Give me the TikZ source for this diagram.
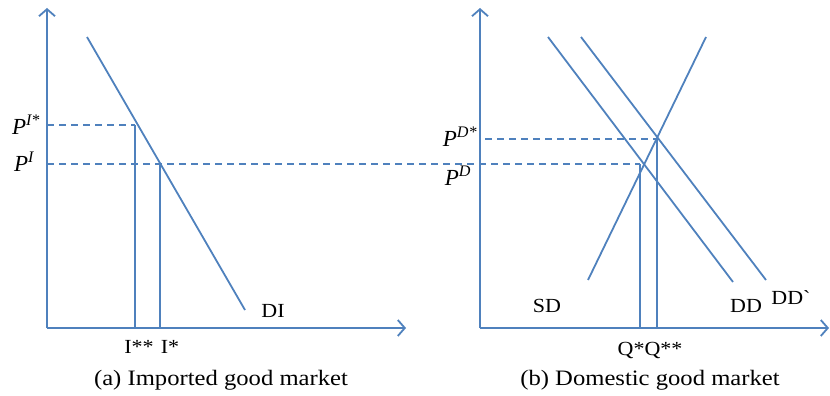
\documentclass[tikz,border=0pt]{standalone}
\usepackage{fontspec}
\setmainfont{Liberation Serif}
\usetikzlibrary{arrows.meta}
\definecolor{lb}{RGB}{79,129,189}
\tikzset{
  ax/.style={draw=lb, line width=1.8pt, -{Straight Barb[length=7pt,width=16pt,line width=1.8pt]}},
  ln/.style={draw=lb, line width=1.8pt},
  dl/.style={draw=lb, line width=1.4pt, dash pattern=on 7pt off 5pt},
  lbl/.style={font=\fontsize{20}{24}\selectfont, inner sep=0pt, xscale=1.1},
  plbl/.style={font=\fontsize{23}{27}\selectfont\itshape, inner sep=0pt},
  captext/.style={font=\fontsize{22}{26}\selectfont, inner sep=0pt, xscale=1.12}
}
\begin{document}
\begin{tikzpicture}[x=1pt,y=-1pt]
\useasboundingbox (0,0) rectangle (830,396);
% left panel
\coordinate (oA) at (47,328);
\coordinate (yA) at (47,8);
\coordinate (xA) at (406,328);
\draw[ax] (oA) -- (yA);
\draw[ax] (oA) -- (xA);
\coordinate (di1) at (87,37);
\coordinate (di2) at (245,310);
\draw[ln] (di1) -- (di2);
\coordinate (pis0) at (47,125);
\coordinate (pis1) at (135,125);
\coordinate (pis2) at (135,328);
\draw[dl] (pis0) -- (pis1);
\draw[ln] (pis1) -- (pis2);
\coordinate (pi0) at (47,164);
\coordinate (pi1) at (160,164);
\coordinate (pi2) at (160,328);
\coordinate (pie) at (640,164);
\draw[dl] (pi0) -- (pie);
\draw[ln] (pi1) -- (pi2);
\node[plbl] (lpis) at (26,125) {P\textsuperscript{I*}};
\node[plbl] (lpi) at (24,162) {P\textsuperscript{I}};
\node[lbl] (liss) at (139,347) {I**};
\node[lbl] (lis) at (170,347) {I*};
\node[lbl] (ldi) at (273,311) {DI};
\node[captext] (capa) at (221,380) {(a) Imported good market};
% right panel
\coordinate (oB) at (480,328);
\coordinate (yB) at (480,8);
\coordinate (xB) at (829,328);
\draw[ax] (oB) -- (yB);
\draw[ax] (oB) -- (xB);
\coordinate (sd1) at (588,280);
\coordinate (sd2) at (706,37);
\draw[ln] (sd1) -- (sd2);
\coordinate (dd1) at (548,37);
\coordinate (dd2) at (733,282);
\draw[ln] (dd1) -- (dd2);
\coordinate (ddp1) at (581,37);
\coordinate (ddp2) at (766,280);
\draw[ln] (ddp1) -- (ddp2);
\coordinate (pds0) at (485,139);
\coordinate (pds1) at (657,139);
\coordinate (pds2) at (657,328);
\draw[dl] (pds0) -- (pds1);
\draw[ln] (pds1) -- (pds2);
\coordinate (qs2) at (640,328);
\draw[ln] (pie) -- (qs2);
\node[plbl] (lpds) at (460,137) {P\textsuperscript{D*}};
\node[plbl] (lpd) at (458,176) {P\textsuperscript{D}};
\node[lbl] (lsd) at (547,306) {SD};
\node[lbl] (ldd) at (746,306) {DD};
\node[lbl] (lddp) at (791,298) {DD\textasciigrave};
\node[lbl] (lq) at (650,350) {Q*Q**};
\node[captext] (capb) at (650,380) {(b) Domestic good market};
\end{tikzpicture}
\end{document}
